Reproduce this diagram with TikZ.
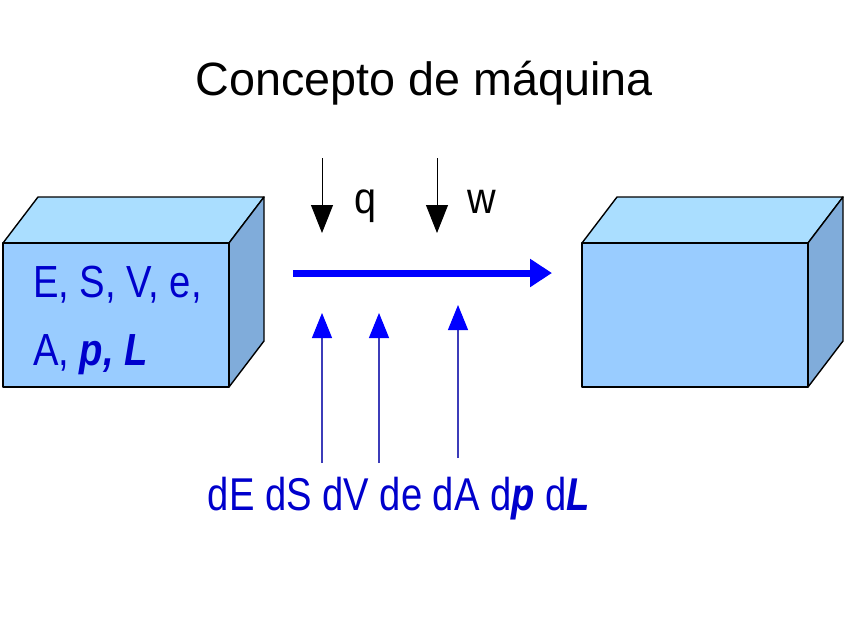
\documentclass[tikz,border=0pt]{standalone}
\usepackage{fontspec}
\setmainfont{Liberation Sans}
\newfontfamily\boxfont[FakeStretch=0.85]{Liberation Sans}
\newfontfamily\difffont[FakeStretch=0.83]{Liberation Sans}
\newfontfamily\qwfont[FakeStretch=0.9]{Liberation Sans}
\usetikzlibrary{arrows.meta, positioning}
\definecolor{frontblue}{RGB}{153,204,255}
\definecolor{topblue}{RGB}{170,222,255}
\definecolor{sideblue}{RGB}{128,172,218}
\definecolor{textblue}{RGB}{0,0,204}
\definecolor{lineblue}{RGB}{60,60,185}

\begin{document}
\begin{tikzpicture}[x=1pt, y=-1pt]
		\tikzstyle{face} = [draw=black, line width=1.4pt, line join=round]
		\tikzstyle{qwarrow} = [black, line width=0.9pt, -{Triangle[length=28pt, width=22pt]}]
		\tikzstyle{flowarrow} = [blue, line width=7pt, -{Triangle[length=22pt, width=27pt]}]
		\tikzstyle{diffarrow} = [lineblue, line width=1.1pt, -{Triangle[length=25pt, width=20pt, color=blue]}]
		\tikzstyle{boxtext} = [inner sep=0pt, anchor=base west, text=textblue, font=\boxfont\fontsize{45}{54}\selectfont]
		\tikzstyle{qwtext} = [inner sep=0pt, anchor=base, font=\qwfont\fontsize{44}{52}\selectfont]

		\useasboundingbox (0,0) rectangle (848,635);

		% title
		\node[inner sep=0pt, anchor=base] at (424,95) (title) {\fontsize{46.7}{56}\selectfont Concepto de máquina};

		% the two boxes
		\foreach \x in {3,582} {
			\filldraw[face, fill=topblue] (\x,243) -- (\x+35,197) -- (\x+261,197) -- (\x+226,243) -- cycle;
			\filldraw[face, fill=sideblue] (\x+226,243) -- (\x+261,197) -- (\x+261,341) -- (\x+226,387) -- cycle;
			\filldraw[face, fill=frontblue] (\x,243) rectangle (\x+226,387);
		}

		\node[boxtext] at (33,297) (state1) {E, S, V, e,};
		\node[boxtext] at (33,365) (state2) {A, \textbf{\textit{p,}} \textbf{\textit{L}}};

		% heat and work
		\coordinate (qs) at (322,158);
		\coordinate (qe) at (322,233);
		\coordinate (ws) at (437,158);
		\coordinate (we) at (437,233);
		\draw[qwarrow] (qs) -- (qe);
		\draw[qwarrow] (ws) -- (we);
		\node[qwtext] at (366,213) (q) {q};
		\node[qwtext] at (482,213) (w) {w};

		% process
		\coordinate (start) at (293,273);
		\coordinate (stop) at (552,273);
		\draw[flowarrow] (start) -- (stop);

		% changes
		\node[inner sep=0pt, anchor=base, text=textblue, font=\difffont\fontsize{46}{55}\selectfont] at (399,510) (diffs)
			{dE dS dV de dA d\textbf{\textit{p}} d\textbf{\textit{L}}};
		\coordinate (d1) at (322,463);
		\coordinate (d2) at (379,463);
		\coordinate (d3) at (458,458);
		\coordinate (t1) at (322,313);
		\coordinate (t2) at (379,313);
		\coordinate (t3) at (458,305);
		\foreach \i in {1,2,3}
			\draw[diffarrow] (d\i) -- (t\i);
	\end{tikzpicture}
\end{document}
